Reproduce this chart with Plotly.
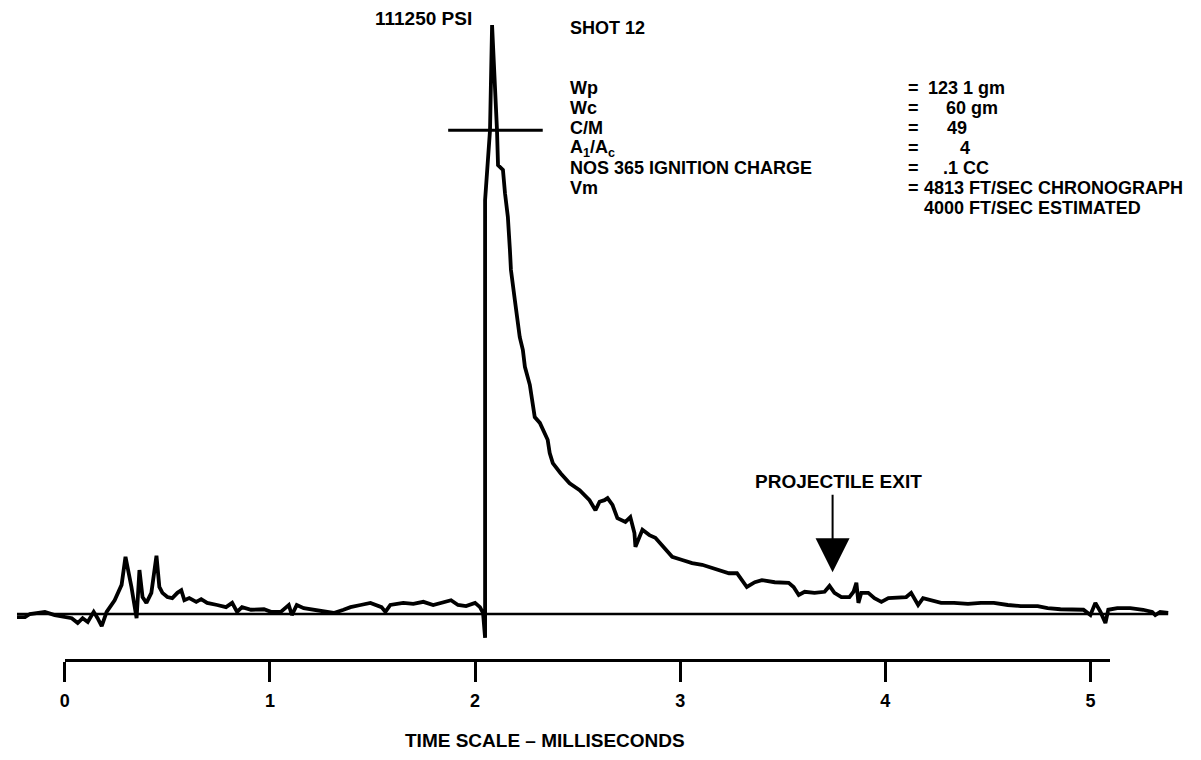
import plotly.graph_objects as go

# Shot 12 chamber pressure trace
# time in milliseconds, pressure in thousands of psi
time_ms = [
    -0.233, -0.194, -0.170, -0.136, -0.097, -0.049, 0.000, 0.034, 0.063, 0.087,
    0.112, 0.141, 0.160, 0.180, 0.204, 0.243, 0.277, 0.296, 0.325, 0.350,
    0.364, 0.379, 0.398, 0.422, 0.447, 0.461, 0.476, 0.500, 0.524, 0.549,
    0.568, 0.583, 0.607, 0.641, 0.665, 0.694, 0.743, 0.786, 0.816, 0.840,
    0.864, 0.908, 0.971, 1.005, 1.053, 1.092, 1.107, 1.131, 1.165, 1.214,
    1.262, 1.311, 1.359, 1.393, 1.442, 1.490, 1.544, 1.563, 1.587, 1.650,
    1.699, 1.748, 1.796, 1.845, 1.883, 1.917, 1.956, 2.000, 2.024, 2.039,
    2.049, 2.049, 2.073, 2.083, 2.092, 2.107, 2.112, 2.136, 2.146, 2.160,
    2.170, 2.175, 2.194, 2.218, 2.233, 2.243, 2.267, 2.291, 2.316, 2.340,
    2.354, 2.364, 2.379, 2.417, 2.461, 2.510, 2.558, 2.587, 2.607, 2.631,
    2.646, 2.670, 2.694, 2.733, 2.757, 2.777, 2.782, 2.816, 2.850, 2.879,
    2.922, 2.961, 3.010, 3.058, 3.107, 3.189, 3.238, 3.277, 3.301, 3.325,
    3.364, 3.398, 3.461, 3.529, 3.553, 3.578, 3.607, 3.655, 3.704, 3.728,
    3.752, 3.786, 3.825, 3.845, 3.859, 3.869, 3.883, 3.917, 3.947, 3.981,
    4.015, 4.063, 4.102, 4.126, 4.160, 4.184, 4.223, 4.272, 4.335, 4.403,
    4.466, 4.529, 4.597, 4.660, 4.743, 4.791, 4.854, 4.917, 4.966, 5.000,
    5.024, 5.049, 5.073, 5.087, 5.131, 5.194, 5.257, 5.301, 5.316, 5.340,
    5.379,
]
pressure_kpsi = [
    -0.6, -0.6, 0.0, 0.2, 0.4, -0.2, -0.6, -0.8, -1.7, -0.8,
    -1.5, 0.4, -0.8, -2.3, 0.4, 2.6, 5.5, 10.8, 5.1, -0.8,
    8.3, 3.2, 2.1, 4.0, 11.0, 5.1, 4.0, 3.2, 3.0, 4.0,
    4.5, 2.6, 3.0, 2.3, 2.8, 2.1, 1.7, 1.3, 2.1, 0.4,
    1.3, 0.8, 0.9, 0.4, 0.4, 1.7, -0.2, 1.7, 1.1, 0.8,
    0.4, 0.2, 0.8, 1.3, 1.7, 2.1, 1.3, 0.4, 1.7, 2.1,
    1.9, 2.3, 1.7, 2.3, 2.6, 1.7, 1.5, 2.1, 1.3, 0.2,
    -4.5, 78.2, 91.4, 111.25, 104.7, 91.4, 84.8, 83.9, 79.5, 75.0,
    68.8, 65.0, 59.3, 52.3, 49.9, 46.7, 43.3, 37.2, 36.1, 34.2,
    32.9, 30.4, 28.5, 26.6, 24.7, 23.4, 21.5, 19.6, 21.2, 21.5,
    21.9, 20.6, 18.1, 17.4, 18.3, 15.3, 12.7, 15.9, 14.9, 14.4,
    12.5, 10.8, 10.2, 9.6, 9.3, 8.3, 7.7, 7.7, 6.4, 5.1,
    6.0, 6.4, 6.0, 5.9, 5.1, 3.6, 4.2, 4.0, 4.2, 5.3,
    4.0, 3.2, 3.2, 4.2, 5.9, 2.1, 4.0, 4.0, 3.0, 2.3,
    3.0, 3.2, 3.2, 4.0, 1.7, 3.0, 2.6, 2.1, 2.1, 1.9,
    2.1, 2.1, 1.7, 1.5, 1.5, 1.1, 0.9, 0.9, 0.8, -0.2,
    2.1, 0.4, -1.7, 0.8, 1.1, 1.1, 0.8, 0.4, -0.2, 0.4,
    0.2,
]

baseline_ms = [-0.233, 5.379]
baseline_kpsi = [0, 0]

peak_psi = 111250
crosshair_ms = [1.869, 2.330]
crosshair_kpsi = [91.4, 91.4]

exit_ms = 3.743
exit_kpsi = 7.9

time_ticks = [0, 1, 2, 3, 4, 5]
scale_end_ms = 5.097

shot_title = "SHOT 12"
shot_labels = ["Wp", "Wc", "C/M", "A<sub>1</sub>/A<sub>c</sub>",
               "NOS 365 IGNITION CHARGE", "Vm", ""]
shot_values = ["123 1 gm", "60 gm", "49", "4", ".1 CC",
               "4813 FT/SEC CHRONOGRAPH", "4000 FT/SEC ESTIMATED"]
value_x = [926, 944, 945, 958, 941, 922, 922]

# page body has an 8px margin, so work in page pixels and shift back
OFF = 8
W, H = 1201 - 2 * OFF, 760 - 2 * OFF
FONT = "Liberation Sans, Arial, sans-serif"
MS_PX = 206.0      # pixels per millisecond
X0_PX = 60         # page x of t = 0
Y0_PX = 614        # page y of zero pressure
KPSI_PX = 0.1889   # kpsi per pixel


def px(x):
    return (x - OFF) / W


def py(y):
    return 1 - (y - OFF) / H


def text(x, y, s, anchor="left", size=18, va="middle"):
    return dict(x=px(x), y=py(y), xref="paper", yref="paper", text=f"<b>{s}</b>",
                showarrow=False, xanchor=anchor, yanchor=va, borderpad=0,
                font=dict(size=size))


fig = go.Figure()

fig.add_trace(go.Scatter(x=baseline_ms, y=baseline_kpsi, mode="lines",
                         line=dict(color="black", width=2.5), hoverinfo="skip"))
fig.add_trace(go.Scatter(x=time_ms, y=pressure_kpsi, mode="lines",
                         line=dict(color="black", width=3.8)))
fig.add_trace(go.Scatter(x=crosshair_ms, y=crosshair_kpsi, mode="lines",
                         line=dict(color="black", width=3), hoverinfo="skip"))
# invisible trace that carries the time scale axis
fig.add_trace(go.Scatter(x=time_ticks, y=[0] * len(time_ticks), xaxis="x2",
                         mode="markers", marker=dict(opacity=0), hoverinfo="skip"))

ann = [text(470, 7, f"{peak_psi} PSI", "right", 19, "top"),
       text(566, 28, shot_title)]
for i, (lab, val) in enumerate(zip(shot_labels, shot_values)):
    yy = 88 + 20 * i
    if lab:
        ann.append(text(566, yy, lab))
        ann.append(text(912, yy, "=", "center"))
    ann.append(text(value_x[i], yy, val))

# projectile exit marker
ann.append(dict(x=exit_ms, y=exit_kpsi, xref="x", yref="y", text="",
                showarrow=True, ax=0, ay=-79, arrowhead=2, arrowsize=3.4,
                arrowwidth=2, arrowcolor="black"))
ann.append(text(837, 481, "PROJECTILE EXIT", "center", 19))
ann.append(text(542, 752, "TIME SCALE \u2013 MILLISECONDS", "center", 19, "bottom"))

x_lo = -(X0_PX - OFF) / MS_PX
y_hi = (Y0_PX - OFF) * KPSI_PX

fig.update_layout(
    width=W, height=H,
    margin=dict(l=0, r=0, t=0, b=0),
    paper_bgcolor="white", plot_bgcolor="rgba(0,0,0,0)",
    showlegend=False,
    font=dict(family=FONT, size=18, color="black"),
    annotations=ann,
    xaxis=dict(range=[x_lo, x_lo + W / MS_PX], visible=False),
    yaxis=dict(range=[y_hi - H * KPSI_PX, y_hi], visible=False),
    xaxis2=dict(
        anchor="free", position=py(660), side="bottom",
        domain=[px(X0_PX), px(X0_PX + scale_end_ms * MS_PX)],
        range=[0, scale_end_ms],
        tickvals=time_ticks, ticktext=[f"<b>{t}</b>" for t in time_ticks],
        ticks="outside", ticklen=20, tickwidth=2.5,
        tickcolor="black", showline=True, linewidth=2.5, linecolor="black",
        showgrid=False, zeroline=False, ticklabelstandoff=4,
        tickfont=dict(family=FONT, size=18, color="black"),
    ),
)

fig.write_html("out.html")
